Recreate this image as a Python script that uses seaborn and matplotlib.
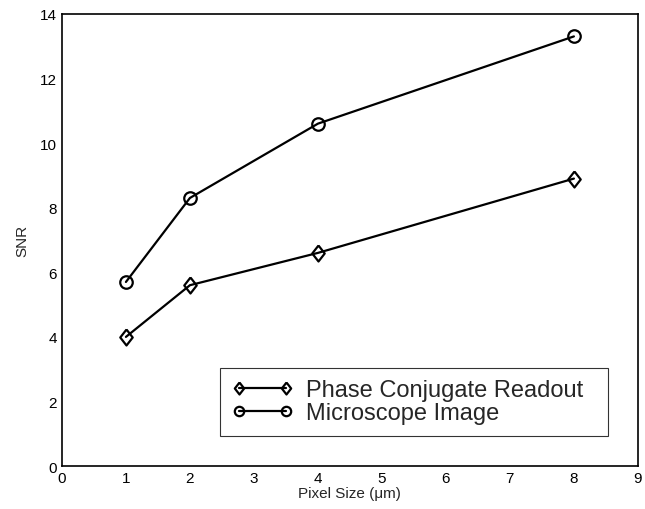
import matplotlib
matplotlib.use("Agg")
import matplotlib.pyplot as plt
import seaborn as sns
import pandas as pd

pixel_size = [1, 2, 4, 8]
phase_conjugate = [4.0, 5.6, 6.6, 8.9]
microscope = [5.7, 8.3, 10.6, 13.3]
series_names = ["Phase Conjugate Readout", "Microscope Image"]

sns.set_style("white")
plt.rcParams['font.family'] = ['Liberation Sans', 'DejaVu Sans']

df = pd.DataFrame({
    "x": pixel_size * 2,
    "y": phase_conjugate + microscope,
    "series": [series_names[0]] * 4 + [series_names[1]] * 4,
})

fig = plt.figure(figsize=(6.45, 5.10), dpi=100)
ax = fig.add_axes([0.096, 0.084, 0.893, 0.887])

diamond = [(0, 1), (0.78, 0), (0, -1), (-0.78, 0), (0, 1)]
markers = {series_names[0]: diamond, series_names[1]: "o"}
sizes = {series_names[0]: 11.5, series_names[1]: 9}
for name in series_names:
    sub = df[df.series == name]
    sns.lineplot(data=sub, x="x", y="y", ax=ax, color="black", linewidth=1.6,
                 marker=markers[name], markersize=sizes[name],
                 markerfacecolor="none", markeredgecolor="black", markeredgewidth=1.6,
                 label=name)

ax.set_xlim(0, 9)
ax.set_ylim(0, 14)
ax.set_xticks(range(0, 10))
ax.set_yticks(range(0, 15, 2))
ax.tick_params(direction="in", length=4, width=1, labelsize=11, colors="black")
for s in ax.spines.values():
    s.set_visible(True)
    s.set_color("black")
    s.set_linewidth(1.2)
ax.set_xlabel("Pixel Size (μm)", fontsize=11, labelpad=1)
ax.set_ylabel("SNR", fontsize=11, labelpad=8)

leg = ax.legend(loc="lower left", bbox_to_anchor=(0.274, 0.066, 0.674, 0.155),
                mode="expand", frameon=True, fancybox=False, fontsize=17,
                handlelength=2.6, borderpad=0.5, labelspacing=0.05,
                handletextpad=0.55, numpoints=2, markerscale=0.75,
                borderaxespad=0)
leg.get_frame().set_edgecolor("black")
leg.get_frame().set_linewidth(0.8)

fig.savefig("out.png", dpi=100)
